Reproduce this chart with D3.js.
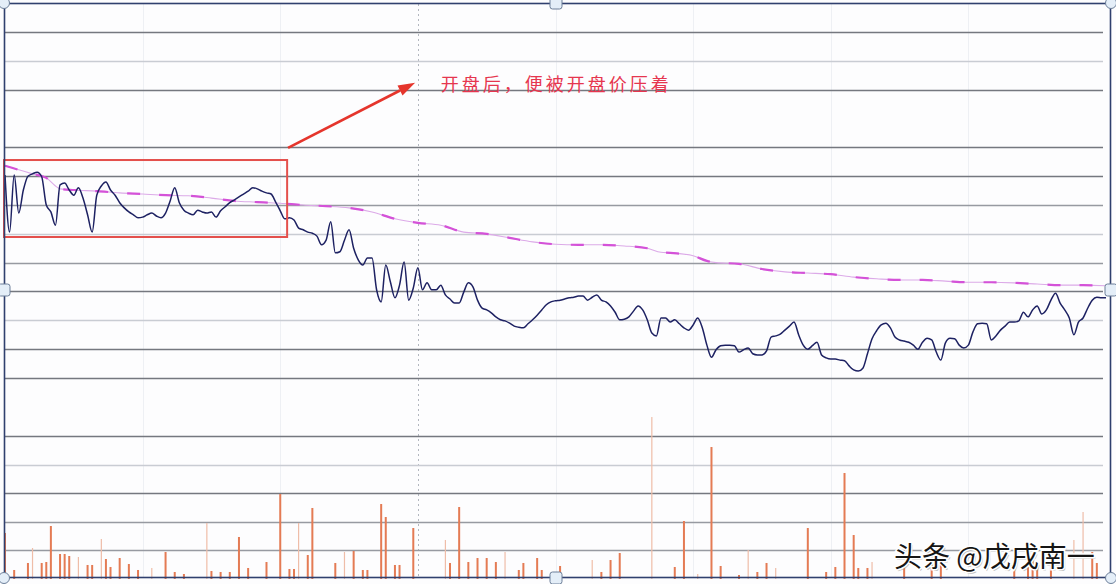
<!DOCTYPE html>
<html><head><meta charset="utf-8">
<script src="https://cdn.jsdelivr.net/npm/d3@7"></script>
<style>body{margin:0;background:#fff}svg{display:block}</style>
</head><body>
<svg id="c" width="1116" height="584"></svg>
<script>
// ---- data ----
const prices = [
10.002,9.903,10.002,9.936,9.976,10.000,10.004,10.007,9.999,9.950,
9.938,9.915,9.985,9.988,9.976,9.967,9.980,9.962,9.933,9.903,
9.967,9.983,9.990,9.976,9.967,9.954,9.945,9.938,9.933,9.928,
9.929,9.933,9.936,9.931,9.928,9.936,9.957,9.980,9.954,9.941,
9.936,9.933,9.941,9.938,9.936,9.938,9.929,9.940,9.947,9.954,
9.959,9.964,9.969,9.974,9.980,9.978,9.974,9.971,9.969,9.955,
9.940,9.926,9.928,9.924,9.910,9.907,9.903,9.901,9.896,9.881,
9.889,9.921,9.867,9.869,9.889,9.907,9.875,9.855,9.846,9.858,
9.858,9.803,9.782,9.846,9.817,9.789,9.811,9.851,9.785,9.806,
9.841,9.803,9.815,9.803,9.803,9.811,9.794,9.787,9.780,9.780,
9.799,9.815,9.808,9.785,9.771,9.768,9.763,9.756,9.751,9.749,
9.745,9.740,9.738,9.737,9.744,9.751,9.759,9.768,9.777,9.782,
9.784,9.785,9.787,9.789,9.790,9.792,9.792,9.785,9.790,9.794,
9.785,9.782,9.775,9.764,9.751,9.752,9.756,9.766,9.775,9.768,
9.751,9.728,9.723,9.754,9.754,9.747,9.751,9.744,9.737,9.733,
9.742,9.754,9.737,9.707,9.686,9.699,9.706,9.707,9.707,9.706,
9.695,9.699,9.702,9.692,9.690,9.690,9.697,9.721,9.723,9.726,
9.733,9.740,9.747,9.725,9.707,9.700,9.706,9.712,9.690,9.685,
9.683,9.683,9.681,9.680,9.671,9.664,9.662,9.667,9.692,9.718,
9.732,9.742,9.745,9.737,9.721,9.716,9.714,9.712,9.707,9.700,
9.712,9.719,9.716,9.695,9.681,9.711,9.719,9.718,9.707,9.702,
9.707,9.730,9.744,9.745,9.744,9.716,9.723,9.733,9.740,9.747,
9.747,9.749,9.764,9.756,9.768,9.775,9.761,9.768,9.785,9.797,
9.780,9.768,9.754,9.725,9.747,9.754,9.771,9.785,9.790,9.789,9.789];
const minutes = prices.map((_, i) => i);

const avgMinutes = [0,3,6,9,11,12,15,20,25,30,35,40,45,50,55,60,65,70,75,80,85,90,95,100,105,110,115,120,125,130,135,140,143,145,150,153,155,160,165,170,175,180,185,190,195,200,205,210,215,220,225,230,235,240];
const avgPrices = [10.018,10.011,10.004,9.997,9.983,9.978,9.976,9.974,9.971,9.969,9.967,9.966,9.962,9.957,9.955,9.953,9.950,9.948,9.945,9.938,9.926,9.919,9.915,9.903,9.900,9.893,9.886,9.882,9.881,9.881,9.879,9.875,9.868,9.867,9.862,9.853,9.850,9.848,9.839,9.834,9.832,9.830,9.825,9.822,9.820,9.820,9.818,9.816,9.816,9.815,9.813,9.811,9.811,9.810];

const volMinutes = [0,2,5,6,8,9,10,12,13,14,16,18,19,21,22,23,25,27,29,32,35,37,39,44,45,47,49,51,53,57,60,62,63,64,66,67,72,74,76,78,79,82,83,85,86,89,96,97,99,101,103,105,107,109,112,113,116,117,121,128,130,132,134,141,146,148,151,154,156,160,162,164,166,168,175,179,181,183,185,186,188,189,196,202,204,220,223,224,225,228,233,235,237,238];
const volValues = [1610,315,560,1084,560,594,1853,874,874,804,769,490,490,1399,699,420,734,524,315,385,944,245,175,1958,280,245,245,1469,385,594,2972,350,350,1958,839,2483,560,944,979,315,315,2622,2168,490,490,1783,1364,560,2517,594,734,734,594,944,315,560,734,315,455,664,245,664,909,5664,420,2028,175,4615,455,140,1014,245,560,385,1783,245,420,3706,1538,385,385,594,560,490,560,594,909,664,560,664,1364,2343,944,560];
const volKind = [1,1,1,0,1,1,1,1,1,1,0,1,1,0,1,1,1,1,1,0,1,1,1,0,1,1,1,1,1,1,1,1,1,0,1,1,1,0,1,1,1,1,1,1,1,1,0,1,1,1,1,1,1,0,1,1,1,1,1,0,1,1,1,0,1,1,0,1,1,1,0,1,1,0,1,1,1,1,1,1,1,0,1,1,1,1,1,1,1,1,0,0,1,1];

const priceTicks = [10.25,10.20,10.15,10.05,10.00,9.95,9.90,9.85,9.80,9.75,9.70,9.65];
const priceTickWeight = ["d","l","d","d","d","m","l","m","d","l","d","d"];
const volTicks = [5000,4000,3000,2000,1000];
const volTickWeight = ["d","l","d","m","m"];
const timeTicks = [30,60,90,120,150,180,210];
const markedTime = 90;

const note = {text:"开盘后，便被开盘价压着", minute:95, price:10.148};
const box = {m0:0, m1:61.5, hi:10.028, lo:9.8945};
const arrow = {m0:61.7, p0:10.049, m1:89.4, p1:10.162};
const watermark = "头条 @戊戌南一";

// ---- scales ----
const svg = d3.select("#c");
const x = d3.scaleLinear().domain([0,240]).range([5,1106]);
const y = d3.scaleLinear().domain([9.65,10.25]).range([378,32]);
const yv = d3.scaleLinear().domain([0,5000]).range([579,436]);
const gc = {d:"#75787f", m:"#979aa1", l:"#c9ccd3"};

svg.append("rect").attr("width",1116).attr("height",584).attr("fill","#fdfdfe");

// vertical time grid
svg.append("g").selectAll("line").data(timeTicks).join("line")
  .attr("x1",d=>Math.round(x(d))+0.5).attr("x2",d=>Math.round(x(d))+0.5)
  .attr("y1",4).attr("y2",577)
  .attr("stroke",d=>d===markedTime?"#b3b7bf":"#eef0f4")
  .attr("stroke-width",1)
  .attr("stroke-dasharray",d=>d===markedTime?"2,3":null);

// horizontal grid
const hg = svg.append("g");
hg.selectAll("line.p").data(priceTicks).join("line").attr("class","p")
  .attr("x1",5).attr("x2",1103)
  .attr("y1",d=>Math.round(y(d))+0.5).attr("y2",d=>Math.round(y(d))+0.5)
  .attr("stroke",(d,i)=>gc[priceTickWeight[i]]).attr("stroke-width",1.4);
hg.selectAll("line.v").data(volTicks).join("line").attr("class","v")
  .attr("x1",5).attr("x2",1103)
  .attr("y1",d=>Math.round(yv(d))+0.5).attr("y2",d=>Math.round(yv(d))+0.5)
  .attr("stroke",(d,i)=>gc[volTickWeight[i]]).attr("stroke-width",1.4);

// volume bars
svg.append("g").selectAll("rect").data(volMinutes).join("rect")
  .attr("x",(d,i)=>x(d)-(volKind[i]?1:0.6))
  .attr("width",(d,i)=>volKind[i]?2:1.2)
  .attr("y",(d,i)=>yv(volValues[i]))
  .attr("height",(d,i)=>yv(0)-yv(volValues[i]))
  .attr("fill",(d,i)=>volKind[i]?"#e47b54":"#efbda8");

// average price line
const avgLine = d3.line().x((d,i)=>x(avgMinutes[i])).y(d=>y(d)).curve(d3.curveMonotoneX);
svg.append("path").attr("d",avgLine(avgPrices)).attr("fill","none")
  .attr("stroke","#dcaae8").attr("stroke-width",1.1);
svg.append("path").attr("d",avgLine(avgPrices)).attr("fill","none")
  .attr("stroke","#d452d8").attr("stroke-width",2.2).attr("stroke-dasharray","13,19");

// price line
const priceLine = d3.line().x((d,i)=>x(minutes[i])).y(d=>y(d)).curve(d3.curveMonotoneX);
svg.append("path").attr("d",priceLine(prices)).attr("fill","none")
  .attr("stroke","#1d2162").attr("stroke-width",1.5).attr("stroke-linejoin","round");

// annotation box
svg.append("rect")
  .attr("x",x(box.m0)-1).attr("y",y(box.hi))
  .attr("width",x(box.m1)-x(box.m0)+1).attr("height",y(box.lo)-y(box.hi))
  .attr("fill","none").attr("stroke","#e4504c").attr("stroke-width",2);

// arrow
const ax0=x(arrow.m0), ay0=y(arrow.p0), ax1=x(arrow.m1), ay1=y(arrow.p1);
const ang=Math.atan2(ay1-ay0, ax1-ax0), hl=17, hw=5.5;
const bx=ax1-hl*Math.cos(ang), by=ay1-hl*Math.sin(ang);
svg.append("line").attr("x1",ax0).attr("y1",ay0).attr("x2",bx).attr("y2",by)
  .attr("stroke","#e5352c").attr("stroke-width",2.6);
svg.append("polygon").attr("points",[
  [ax1,ay1],
  [bx+hw*Math.sin(ang), by-hw*Math.cos(ang)],
  [bx-hw*Math.sin(ang), by+hw*Math.cos(ang)]].map(p=>p.join(",")).join(" "))
  .attr("fill","#e5352c");

// annotation text
svg.append("text").attr("x",x(note.minute)).attr("y",y(note.price))
  .attr("font-family","'Noto Sans CJK SC', sans-serif").attr("font-size",18)
  .attr("letter-spacing",3).attr("fill","#e6364f").text(note.text);

// frame
svg.append("rect").attr("x",4.5).attr("y",3.5).attr("width",1106).attr("height",574)
  .attr("fill","none").attr("stroke","#30406e").attr("stroke-width",1.6);

// watermark
const wm = svg.append("g").attr("font-family","'Noto Sans CJK SC', sans-serif").attr("font-size",28);
wm.append("text").attr("x",894).attr("y",567).attr("fill","#9a9a9a").text(watermark)
  .attr("transform","translate(1.5,1.5)").attr("opacity",0.6);
wm.append("text").attr("x",894).attr("y",567).attr("fill","#151515")
  .attr("stroke","#ffffff").attr("stroke-width",3).attr("paint-order","stroke").text(watermark);

// selection handles
const corners=[[4,3],[1111,3],[4,578],[1111,578]];
const mids=[[556,3],[4,290],[1111,290],[556,578]];
svg.append("g").selectAll("circle").data(corners).join("circle")
  .attr("cx",d=>d[0]).attr("cy",d=>d[1]).attr("r",5.5)
  .attr("fill","#e4eef8").attr("stroke","#6d7f99").attr("stroke-width",1);
svg.append("g").selectAll("rect").data(mids).join("rect")
  .attr("x",d=>d[0]-6).attr("y",d=>d[1]-6).attr("width",12).attr("height",12).attr("rx",2.5)
  .attr("fill","#e4eef8").attr("stroke","#6d7f99").attr("stroke-width",1);
</script>
</body></html>
